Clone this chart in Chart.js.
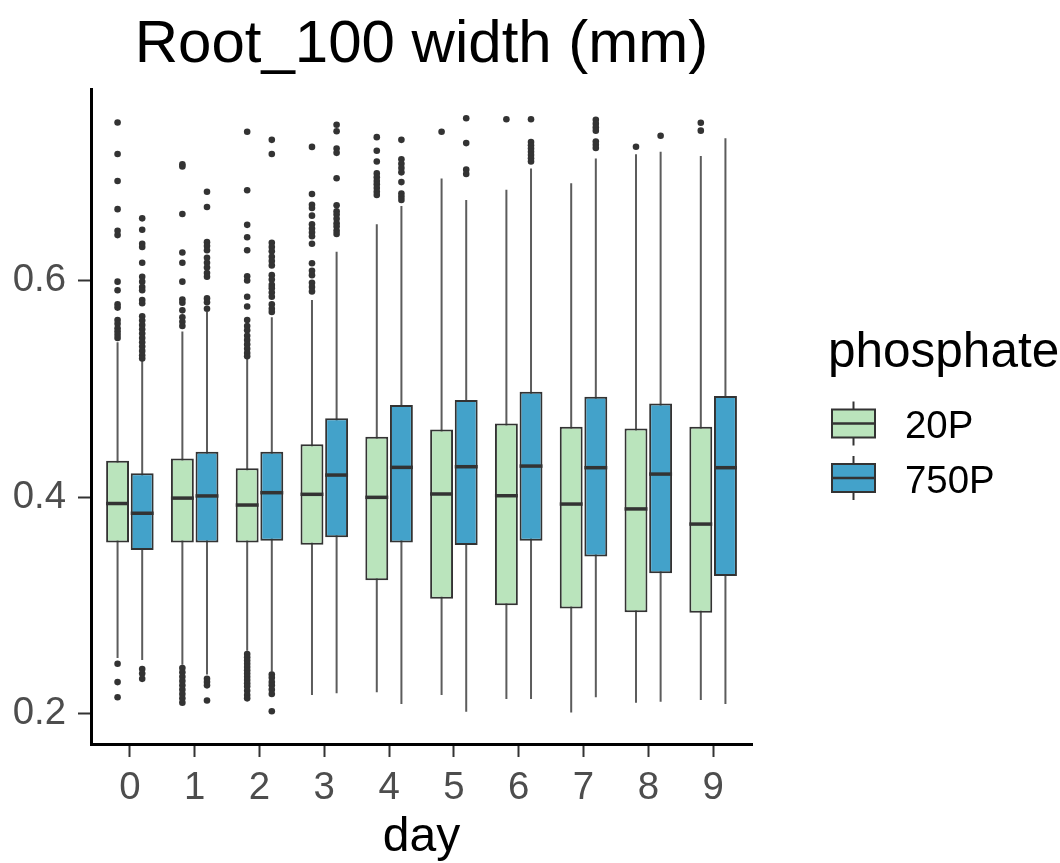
<!DOCTYPE html>
<html>
<head>
<meta charset="utf-8">
<script src="https://cdn.jsdelivr.net/npm/chart.js@4.4.1/dist/chart.umd.min.js"></script>
<style>
  html, body { margin: 0; padding: 0; background: #fff; }
  canvas { display: block; }
</style>
</head>
<body>
<canvas id="chart" width="1060" height="863"></canvas>
<script>
// root width per day, five-number summaries for each phosphate level
const days = [0, 1, 2, 3, 4, 5, 6, 7, 8, 9];
const groups = ['20P', '750P'];

const lo20  = [0.2513, 0.245, 0.258, 0.217, 0.2196, 0.217, 0.2134, 0.2008, 0.210, 0.2125];
const q1_20 = [0.358, 0.358, 0.358, 0.356, 0.323, 0.306, 0.300, 0.297, 0.2935, 0.293];
const med20 = [0.394, 0.399, 0.3926, 0.4025, 0.3997, 0.4028, 0.4012, 0.3935, 0.389, 0.375];
const q3_20 = [0.4335, 0.4357, 0.4265, 0.4487, 0.4557, 0.4625, 0.468, 0.465, 0.4634, 0.465];
const hi20  = [0.543, 0.553, 0.5275, 0.582, 0.652, 0.6944, 0.684, 0.690, 0.7166, 0.715];

const lo750  = [0.2494, 0.236, 0.2386, 0.2187, 0.2088, 0.2017, 0.2134, 0.2149, 0.2109, 0.2088];
const q1_750 = [0.351, 0.358, 0.3596, 0.3628, 0.358, 0.3557, 0.3596, 0.345, 0.3295, 0.327];
const med750 = [0.385, 0.401, 0.404, 0.4203, 0.4274, 0.428, 0.4286, 0.4271, 0.4212, 0.4271];
const q3_750 = [0.4219, 0.4418, 0.4418, 0.4727, 0.485, 0.4896, 0.4973, 0.4927, 0.4865, 0.4933];
const hi750  = [0.526, 0.571, 0.566, 0.6266, 0.6688, 0.6744, 0.7036, 0.7128, 0.719, 0.7314];

const out20 = [
  [0.746, 0.717, 0.692, 0.666, 0.646, 0.642, 0.599, 0.591, 0.578, 0.575, 0.5635, 0.560, 0.556, 0.553, 0.550, 0.547, 0.246, 0.229, 0.215],
  [0.7075, 0.7055, 0.6615, 0.626, 0.6165, 0.599, 0.5825, 0.5795, 0.5725, 0.566, 0.562, 0.558, 0.242, 0.238, 0.234, 0.230, 0.226, 0.222, 0.218, 0.214, 0.210],
  [0.7375, 0.6835, 0.6515, 0.640, 0.628, 0.604, 0.600, 0.585, 0.576, 0.5635, 0.558, 0.554, 0.549, 0.545, 0.541, 0.537, 0.533, 0.530,
   0.255, 0.252, 0.249, 0.246, 0.243, 0.240, 0.237, 0.234, 0.231, 0.228, 0.225, 0.221, 0.217, 0.214],
  [0.7235, 0.680, 0.670, 0.667, 0.660, 0.652, 0.648, 0.6445, 0.641, 0.634, 0.616, 0.609, 0.605, 0.598, 0.594, 0.590],
  [0.7325, 0.720, 0.710, 0.699, 0.6955, 0.692, 0.689, 0.6855, 0.682, 0.679],
  [0.7375],
  [0.749],
  [],
  [0.7236],
  [0.7458, 0.7385]
];
const out750 = [
  [0.6575, 0.647, 0.634, 0.631, 0.6165, 0.6035, 0.599, 0.594, 0.591, 0.582, 0.579, 0.567, 0.563, 0.559, 0.555, 0.551, 0.547, 0.543,
   0.539, 0.535, 0.531, 0.528, 0.241, 0.237, 0.232],
  [0.682, 0.668, 0.6355, 0.632, 0.628, 0.621, 0.6165, 0.612, 0.607, 0.6035, 0.5835, 0.580, 0.574, 0.232, 0.229, 0.226, 0.212],
  [0.730, 0.717, 0.635, 0.631, 0.627, 0.622, 0.618, 0.614, 0.605, 0.601, 0.596, 0.593, 0.589, 0.585, 0.578, 0.574, 0.571,
   0.236, 0.233, 0.229, 0.226, 0.222, 0.218, 0.202],
  [0.744, 0.738, 0.722, 0.718, 0.6945, 0.6695, 0.664, 0.661, 0.657, 0.653, 0.650, 0.646, 0.643],
  [0.730, 0.712, 0.708, 0.704, 0.700, 0.691, 0.6805, 0.6775, 0.6745],
  [0.750, 0.727, 0.7025, 0.6985],
  [0.749, 0.728, 0.725, 0.722, 0.719, 0.716, 0.713, 0.710],
  [0.7485, 0.745, 0.7415, 0.7385, 0.7285, 0.7255, 0.7225],
  [0.7338],
  []
];

const yTicks = [0.2, 0.4, 0.6];

const FONT = "'Liberation Sans', Arial, Helvetica, sans-serif";
const fills = ['#bae4bc', '#43a2ca'];
const EDGE = '#333333';
const CAT_PCT = 0.76;

// per-series lookups used by the drawing plugin
const lows = [lo20, lo750];
const meds = [med20, med750];
const highs = [hi20, hi750];

function boxData(q1, q3) {
  return days.map((d, i) => ({ x: d, y: [q1[i], q3[i]] }));
}
function outlierData(list, shift) {
  const pts = [];
  list.forEach((vals, i) => vals.forEach(v => pts.push({ x: days[i] + shift, y: v })));
  return pts;
}

// whiskers behind the boxes, medians on top, plus title and legend
const boxExtras = {
  id: 'boxExtras',
  beforeDatasetsDraw(chart) {
    const ctx = chart.ctx, y = chart.scales.y;
    ctx.save();
    ctx.strokeStyle = 'rgba(51,51,51,0.8)';
    ctx.lineWidth = 2;
    for (let d = 0; d < 2; d++) {
      chart.getDatasetMeta(d).data.forEach((bar, i) => {
        ctx.beginPath();
        ctx.moveTo(bar.x, y.getPixelForValue(highs[d][i]));
        ctx.lineTo(bar.x, y.getPixelForValue(lows[d][i]));
        ctx.stroke();
      });
    }
    ctx.restore();
  },
  afterDatasetsDraw(chart) {
    const ctx = chart.ctx, y = chart.scales.y;
    ctx.save();
    ctx.strokeStyle = EDGE;
    ctx.lineWidth = 3.5;
    for (let d = 0; d < 2; d++) {
      chart.getDatasetMeta(d).data.forEach((bar, i) => {
        const py = y.getPixelForValue(meds[d][i]);
        ctx.beginPath();
        ctx.moveTo(bar.x - bar.width / 2, py);
        ctx.lineTo(bar.x + bar.width / 2, py);
        ctx.stroke();
      });
    }
    ctx.restore();
  },
  afterDraw(chart) {
    const ctx = chart.ctx, area = chart.chartArea;
    ctx.save();
    ctx.fillStyle = '#000';
    ctx.textBaseline = 'alphabetic';
    ctx.textAlign = 'center';
    ctx.font = `60px ${FONT}`;
    ctx.fillText('Root_100 width (mm)', (area.left + area.right) / 2, 62);

    // legend
    ctx.textAlign = 'left';
    ctx.font = `49.5px ${FONT}`;
    ctx.fillText('phosphate', 828, 367);
    ctx.font = `38.4px ${FONT}`;
    groups.forEach((g, k) => {
      const cx = 853.5, cy = 423.5 + k * 54.5;
      ctx.strokeStyle = EDGE;
      ctx.lineWidth = 2;
      ctx.beginPath();
      ctx.moveTo(cx, cy - 22);
      ctx.lineTo(cx, cy + 22);
      ctx.stroke();
      ctx.fillStyle = fills[k];
      ctx.fillRect(cx - 21.5, cy - 14, 43, 28);
      ctx.strokeRect(cx - 21.5, cy - 14, 43, 28);
      ctx.lineWidth = 2.5;
      ctx.beginPath();
      ctx.moveTo(cx - 21.5, cy);
      ctx.lineTo(cx + 21.5, cy);
      ctx.stroke();
      ctx.fillStyle = '#000';
      ctx.fillText(g, 905, cy + 14.5);
    });
    ctx.restore();
  }
};

const barCommon = {
  type: 'bar',
  borderColor: EDGE,
  borderWidth: 2,
  borderSkipped: false,
  categoryPercentage: CAT_PCT,
  barPercentage: 0.93
};
const pointCommon = {
  type: 'scatter',
  pointRadius: 3.3,
  pointBackgroundColor: EDGE,
  pointBorderWidth: 0,
  showLine: false
};

new Chart(document.getElementById('chart'), {
  type: 'bar',
  data: {
    datasets: [
      { ...barCommon, label: groups[0], data: boxData(q1_20, q3_20), backgroundColor: fills[0] },
      { ...barCommon, label: groups[1], data: boxData(q1_750, q3_750), backgroundColor: fills[1] },
      { ...pointCommon, label: groups[0] + ' outliers', data: outlierData(out20, -CAT_PCT / 4) },
      { ...pointCommon, label: groups[1] + ' outliers', data: outlierData(out750, CAT_PCT / 4) }
    ]
  },
  options: {
    responsive: false,
    devicePixelRatio: 1,
    animation: false,
    events: [],
    layout: { padding: { top: 89, right: 308, bottom: 0, left: 0 } },
    plugins: {
      legend: { display: false },
      title: { display: false },
      tooltip: { enabled: false }
    },
    scales: {
      x: {
        type: 'linear',
        min: -0.6,
        max: 9.6,
        offset: false,
        afterBuildTicks: s => { s.ticks = days.map(v => ({ value: v })); },
        afterFit: s => { s.height = 119; },
        ticks: {
          color: '#4d4d4d',
          font: { family: FONT, size: 38.4 },
          padding: 8,
          maxRotation: 0,
          autoSkip: false,
          callback: v => String(v)
        },
        grid: { offset: false, drawOnChartArea: false, drawTicks: true, tickLength: 13, tickColor: EDGE, tickWidth: 2 },
        border: { display: true, color: '#000', width: 3 },
        title: {
          display: true,
          text: 'day',
          color: '#000',
          font: { family: FONT, size: 48, lineHeight: 1.0 },
          padding: { top: 0, bottom: 1 }
        }
      },
      y: {
        type: 'linear',
        min: 0.1718,
        max: 0.777,
        afterBuildTicks: s => { s.ticks = yTicks.map(v => ({ value: v })); },
        afterFit: s => { s.width = 91; },
        ticks: {
          color: '#4d4d4d',
          font: { family: FONT, size: 38.4 },
          padding: 12,
          callback: v => v.toFixed(1)
        },
        grid: { drawOnChartArea: false, drawTicks: true, tickLength: 13, tickColor: EDGE, tickWidth: 2 },
        border: { display: true, color: '#000', width: 3 }
      }
    }
  },
  plugins: [boxExtras]
});
</script>
</body>
</html>
